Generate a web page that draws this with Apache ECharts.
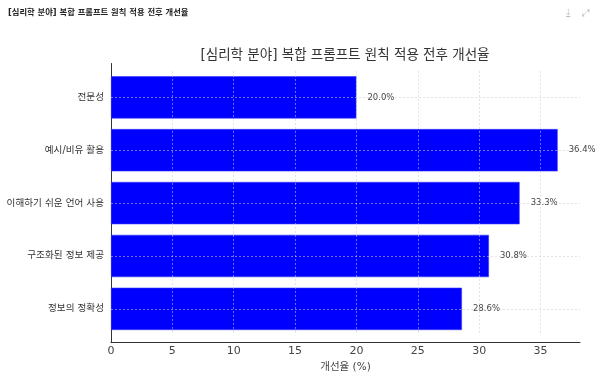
<!DOCTYPE html>
<html><head><meta charset="utf-8">
<script src="https://cdn.jsdelivr.net/npm/echarts@6/dist/echarts.min.js"></script>
<style>html,body{margin:0;padding:0;background:#fff}#c{width:600px;height:381px}</style>
</head><body><div id="c"></div>
<script>
const categories = ['전문성', '예시/비유 활용', '이해하기 쉬운 언어 사용', '구조화된 정보 제공', '정보의 정확성'];
const values = [20.0, 36.4, 33.3, 30.8, 28.6];
const xTicks = [5, 10, 15, 20, 25, 30, 35];
const title = '[심리학 분야] 복합 프롬프트 원칙 적용 전후 개선율';
const xName = '개선율 (%)';

const FONT = "'DejaVu Sans', 'Noto Sans CJK KR', sans-serif";
const XMAX = 38.22;
const chart = echarts.init(document.getElementById('c'), null, {renderer: 'canvas'});
const gridLine = {color: 'rgba(205,205,205,0.7)', width: 0.8, type: [2, 2]};
chart.setOption({
  animation: false,
  textStyle: {fontFamily: FONT},
  title: [
    {text: title, left: 8, top: 9, padding: 0, textStyle: {fontSize: 8.3, fontWeight: 'bold', color: '#222', fontFamily: FONT}},
    {text: title, left: 345, textAlign: 'center', top: 49, padding: 0, textStyle: {fontSize: 13.5, fontWeight: 'normal', color: '#333', fontFamily: FONT}}
  ],
  graphic: [
    {type: 'text', left: 566, top: 8, style: {text: '⤓', fill: '#bbb', fontSize: 10}},
    {type: 'text', left: 582, top: 8, style: {text: '⤢', fill: '#bbb', fontSize: 10}}
  ],
  grid: [
    {left: 111, right: 20, top: 63.5, bottom: 38.3, outerBoundsMode: 'none', containLabel: false},
    {left: 111, right: 20, top: 70.9, bottom: 45.7, outerBoundsMode: 'none', containLabel: false}
  ],
  xAxis: [
    {type: 'value', gridIndex: 0, min: 0, max: XMAX, interval: 5,
     axisLine: {show: true, lineStyle: {color: '#333', width: 1}},
     axisTick: {show: false},
     axisLabel: {color: '#444', fontSize: 11, margin: 3, showMaxLabel: false},
     splitLine: {show: false},
     name: xName, nameLocation: 'middle', nameGap: 18,
     nameTextStyle: {color: '#444', fontSize: 10.5}},
    {type: 'value', gridIndex: 1, min: 0, max: XMAX, show: false, splitLine: {show: false}}
  ],
  yAxis: [
    {type: 'value', gridIndex: 0, min: 0, max: 1,
     axisLine: {show: true, lineStyle: {color: '#333', width: 1}},
     axisTick: {show: false}, axisLabel: {show: false}, splitLine: {show: false}},
    {type: 'category', gridIndex: 1, data: categories, inverse: true,
     axisLine: {show: false}, axisTick: {show: false},
     axisLabel: {color: '#333', fontSize: 9.6, margin: 7},
     splitLine: {show: false}}
  ],
  series: [{
    type: 'bar', xAxisIndex: 1, yAxisIndex: 1,
    data: values, barCategoryGap: '20%',
    itemStyle: {color: '#0000ff', borderColor: '#3a3aff', borderWidth: 0.6},
    label: {show: true, position: 'right', distance: 11, color: '#444', fontSize: 8.5,
            formatter: p => p.value.toFixed(1) + '%'},
    markLine: {
      silent: true, symbol: 'none', label: {show: false},
      lineStyle: gridLine,
      data: categories.map(c => ({yAxis: c})).concat(xTicks.map(t => ({xAxis: t})))
    }
  }]
});
</script></body></html>
